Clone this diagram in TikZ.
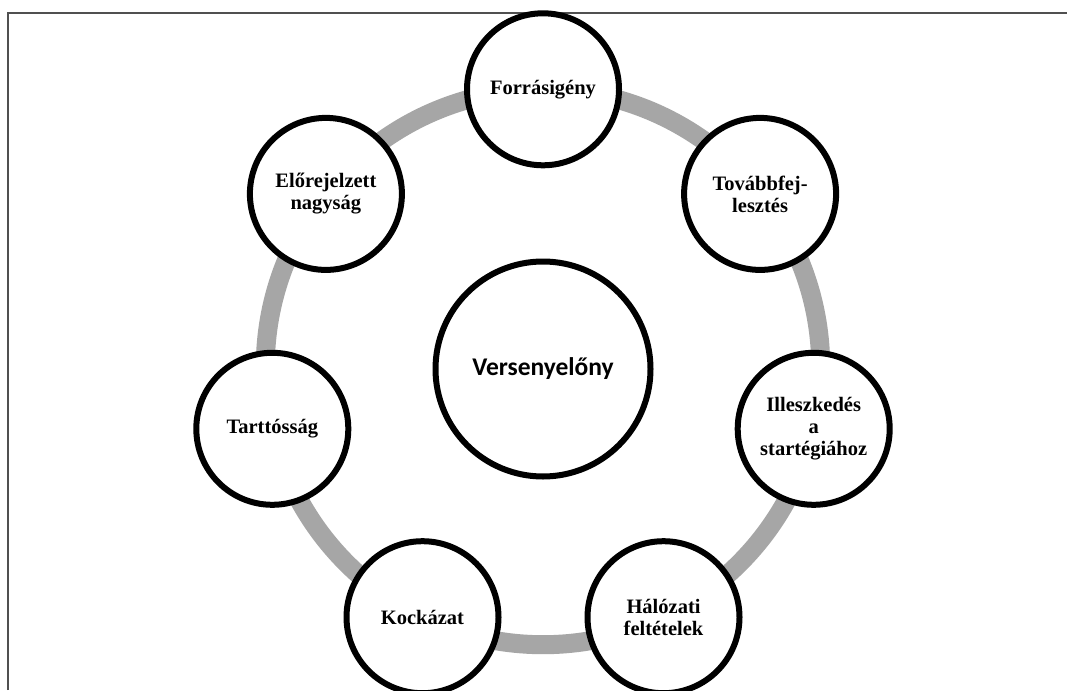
\documentclass[tikz,border=0pt]{standalone}
\usepackage{fontspec}
\setmainfont{Liberation Serif}
\newfontfamily\ringfont{Liberation Serif}
\newfontfamily\hubfont{Carlito}
\definecolor{ringgray}{RGB}{166,166,166}
\definecolor{framegray}{RGB}{80,80,80}
\tikzset{
  satellite/.style={circle, draw=black, line width=6pt, fill=white,
    minimum size=152pt, inner sep=0pt, align=center,
    font=\ringfont\bfseries\fontsize{20.5}{22}\selectfont},
  hub/.style={circle, draw=black, line width=6pt, fill=white,
    minimum size=215pt, inner sep=0pt,
    font=\hubfont\bfseries\fontsize{25.5}{28}\selectfont},
  ring/.style={draw=ringgray, line width=19pt},
  frameline/.style={draw=framegray, line width=2.5pt}
}
\begin{document}
\begin{tikzpicture}[x=1pt,y=-1pt]
  \useasboundingbox (0,0) rectangle (1067,690);
  \fill[white] (0,0) rectangle (1067,690);
  % open frame: top and left edges
  \coordinate (frameTL) at (8,13);
  \coordinate (frameTR) at (1067,13);
  \coordinate (frameBL) at (8,690);
  \draw[frameline] (frameBL) -- (frameTL) -- (frameTR);
  % grey ring behind the satellites
  \coordinate (ringC) at (543,367);
  \draw[ring] (ringC) circle[radius=277.7pt];
  % satellites, clockwise from the top
  \node[satellite] (forras)  at (543,89.3)    {Forrásigény};
  \node[satellite] (tovabb)  at (760.1,193.9) {Továbbfej-\\lesztés};
  \node[satellite] (illesz)  at (813.7,428.8) {Illeszkedés\\a\\startégiához};
  \node[satellite] (halozat) at (663.5,617.2) {Hálózati\\feltételek};
  \node[satellite] (kockaz)  at (422.5,617.2) {Kockázat};
  \node[satellite] (tartos)  at (272.3,428.8) {Tarttósság};
  \node[satellite] (elore)   at (325.9,193.9) {Előrejelzett\\nagyság};
  % central node
  \node[hub] (verseny) at (543,369) {Versenyelőny};
\end{tikzpicture}
\end{document}
